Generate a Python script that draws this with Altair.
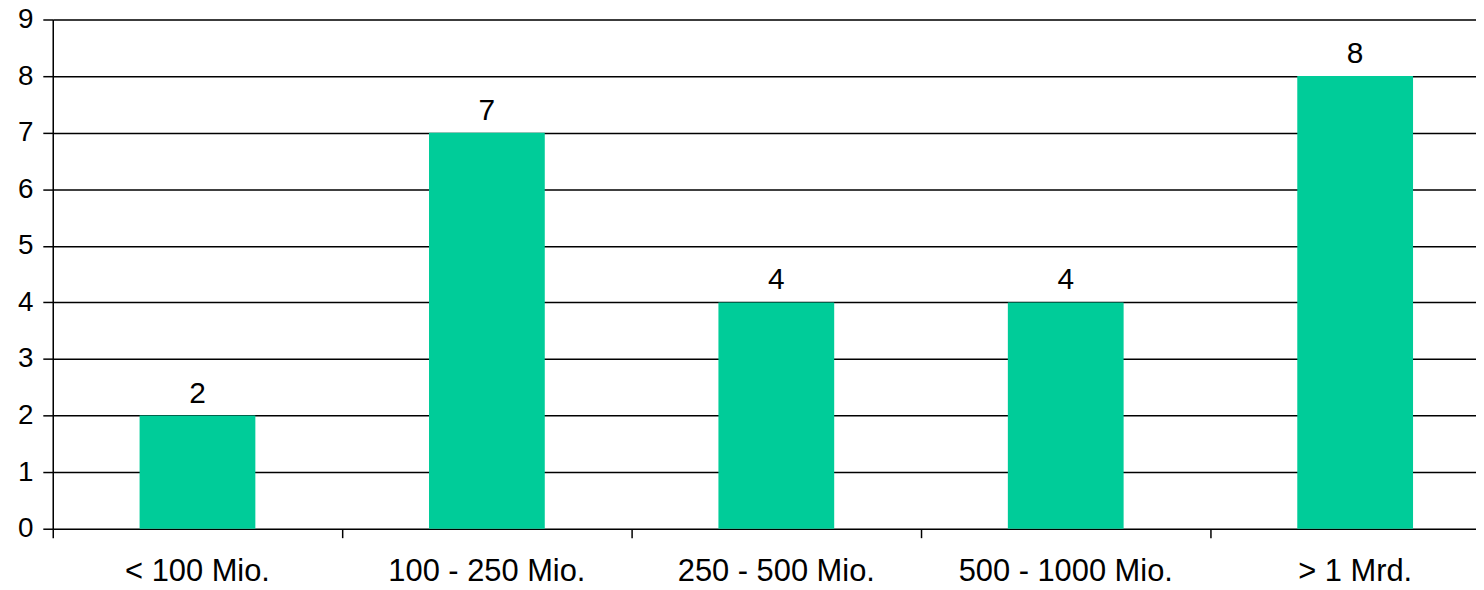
import altair as alt
import pandas as pd

categories = ["< 100 Mio.", "100 - 250 Mio.", "250 - 500 Mio.", "500 - 1000 Mio.", "> 1 Mrd."]
values = [2, 7, 4, 4, 8]

df = pd.DataFrame({"cat": categories, "val": values})

FONT = "Liberation Sans"

x = alt.X("cat:N", sort=categories, title=None,
          scale=alt.Scale(paddingInner=0, paddingOuter=0, range=[0, 1455], round=False),
          axis=alt.Axis(bandPosition=0, labelAngle=0, labelFontSize=31, labelFont=FONT,
                        labelColor="black", tickColor="black", tickSize=9, tickWidth=1.5,
                        domain=False, grid=False, labelPadding=19, labelLimit=0))
y = alt.Y("val:Q", title=None,
          scale=alt.Scale(domain=[0, 9], nice=False),
          axis=alt.Axis(values=list(range(10)), format="d", labelFontSize=28, labelFont=FONT,
                        labelColor="black", tickColor="black", tickSize=10, tickWidth=1.5,
                        domainColor="black", domainWidth=1.5, gridColor="black",
                        gridWidth=1.5, gridOpacity=1, labelPadding=10))

bars = alt.Chart(df).mark_bar(color="#00CC99", width=alt.RelativeBandSize(0.4)).encode(x=x, y=y)
text = alt.Chart(df).mark_text(font=FONT, fontSize=30, color="black", baseline="alphabetic", dy=-13).encode(
    x=alt.X("cat:N", sort=categories), y="val:Q", text="val:Q")

chart = (bars + text).properties(
    width=1431, height=512,
    autosize=alt.AutoSizeParams(type="none"),
    padding={"left": 45, "top": 10, "right": 0, "bottom": 52},
).configure_view(stroke=None).configure(background="white")

chart.save("out.html", embed_options={"renderer": "svg", "actions": False})
